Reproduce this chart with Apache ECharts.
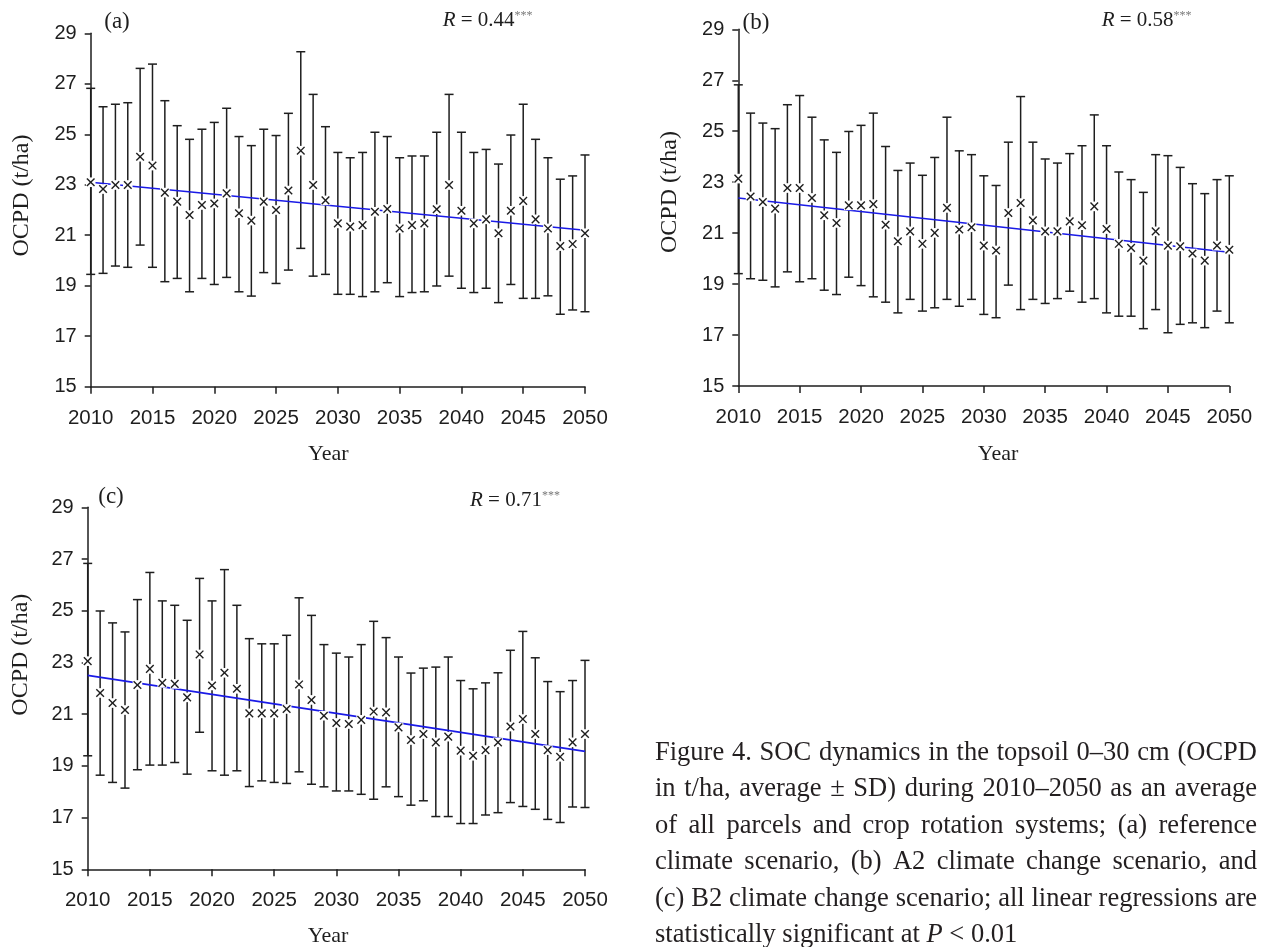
<!DOCTYPE html>
<html><head><meta charset="utf-8">
<script src="https://cdn.jsdelivr.net/npm/echarts@6/dist/echarts.min.js"></script>
<style>html,body{margin:0;padding:0;background:#fff}#c{width:1262px;height:947px}</style>
</head><body><div id="c"></div><script>
const years = [2010,2011,2012,2013,2014,2015,2016,2017,2018,2019,2020,2021,2022,2023,2024,2025,2026,2027,2028,2029,2030,2031,2032,2033,2034,2035,2036,2037,2038,2039,2040,2041,2042,2043,2044,2045,2046,2047,2048,2049,2050];
const yTicks = [15,17,19,21,23,25,27,29];

const meanA = [23.10,22.83,22.99,22.99,24.11,23.76,22.69,22.33,21.80,22.20,22.26,22.66,21.87,21.58,22.33,22.00,22.77,24.35,22.99,22.38,21.47,21.34,21.40,21.93,22.04,21.27,21.40,21.47,22.03,22.99,21.97,21.47,21.63,21.08,21.97,22.36,21.63,21.27,20.57,20.65,21.08];
const upA = [26.82,26.09,26.19,26.25,27.61,27.78,26.33,25.34,24.80,25.20,25.47,26.03,24.91,24.55,25.20,24.95,25.83,28.27,26.58,25.30,24.28,24.07,24.28,25.08,24.91,24.07,24.14,24.14,25.08,26.58,25.08,24.28,24.40,23.82,24.97,26.19,24.80,24.07,23.22,23.35,24.18];
const loA = [19.45,19.49,19.78,19.73,20.61,19.73,19.16,19.29,18.76,19.29,19.05,19.33,18.76,18.59,19.52,19.09,19.62,20.48,19.38,19.45,18.66,18.66,18.57,18.76,19.12,18.57,18.73,18.76,18.99,19.38,18.90,18.73,18.90,18.33,19.05,18.50,18.50,18.60,17.87,18.04,17.97];
const trendA = [23.10, 21.20];

const meanB = [23.14,22.44,22.22,21.96,22.77,22.77,22.38,21.70,21.40,22.09,22.09,22.14,21.33,20.68,21.07,20.58,21.01,21.99,21.14,21.23,20.51,20.32,21.79,22.18,21.50,21.07,21.07,21.46,21.31,22.05,21.16,20.58,20.42,19.92,21.07,20.51,20.48,20.20,19.92,20.51,20.35];
const upB = [26.82,25.71,25.32,25.10,26.04,26.40,25.55,24.66,24.17,24.99,25.23,25.71,24.40,23.46,23.75,23.27,23.97,25.55,24.23,24.08,23.25,22.87,24.57,26.36,24.57,23.91,23.75,24.12,24.43,25.64,24.43,23.40,23.10,22.60,24.08,24.04,23.58,22.94,22.55,23.10,23.25];
const loB = [19.41,19.21,19.15,18.89,19.48,19.09,19.21,18.76,18.59,19.27,18.94,18.50,18.29,17.87,18.40,17.94,18.07,18.40,18.13,18.40,17.81,17.68,18.96,18.00,18.40,18.24,18.43,18.72,18.29,18.43,17.87,17.74,17.74,17.25,18.00,17.09,17.42,17.48,17.29,17.94,17.48];
const trendB = [22.38, 20.25];

const meanC = [23.05,21.82,21.43,21.16,22.13,22.75,22.21,22.17,21.65,23.31,22.11,22.60,21.98,21.03,21.03,21.03,21.20,22.15,21.55,20.94,20.66,20.62,20.78,21.10,21.07,20.49,20.00,20.23,19.91,20.13,19.59,19.39,19.61,19.91,20.52,20.81,20.23,19.61,19.35,19.91,20.23];
const upC = [26.83,24.99,24.53,24.18,25.43,26.48,25.38,25.21,24.63,26.25,25.38,26.59,25.21,23.92,23.72,23.72,24.05,25.50,24.82,23.69,23.36,23.21,23.69,24.59,23.96,23.21,22.59,22.78,22.82,23.21,22.30,21.98,22.21,22.60,23.47,24.20,23.18,22.26,21.87,22.30,23.08];
const loC = [19.39,18.64,18.36,18.14,18.85,19.03,19.03,19.13,18.68,20.30,18.81,18.64,18.81,18.20,18.42,18.36,18.32,18.77,18.29,18.19,18.03,18.03,17.90,17.71,18.19,17.81,17.48,17.65,17.04,17.04,16.77,16.77,17.10,17.19,17.58,17.43,17.32,16.93,16.81,17.41,17.39];
const trendC = [22.50, 19.56];

const panelLabels = ['(a)','(b)','(c)'];
const rValues = ['0.44','0.58','0.71'];
const yTitle = 'OCPD (t/ha)';
const xTitle = 'Year';
const captionLines = [
  'Figure 4. SOC dynamics in the topsoil 0–30 cm (OCPD',
  'in t/ha, average ± SD) during 2010–2050 as an average',
  'of all parcels and crop rotation systems; (a) reference',
  'climate scenario, (b) A2 climate change scenario, and',
  '(c) B2 climate change scenario; all linear regressions are'
];
const captionLast = ['statistically significant at ', 'P', ' < 0.01'];

const SANS = '"Liberation Sans", Arial, sans-serif';
const SERIF = '"Liberation Serif", "Times New Roman", serif';
const INK = '#1e1e1e';

const panels = [
  {grid:{left:90.7, top:33.3, width:494.3, height:353.4}, mean:meanA, up:upA, lo:loA, trend:trendA,
   lab:[117,22], r:[442.7,20], yt:[22,195.5], xt:[328.3,454]},
  {grid:{left:738.3, top:29.3, width:491, height:356.7}, mean:meanB, up:upB, lo:loB, trend:trendB,
   lab:[756,23], r:[1101.7,20], yt:[670,192], xt:[998,454]},
  {grid:{left:87.7, top:507.3, width:497.3, height:362}, mean:meanC, up:upC, lo:loC, trend:trendC,
   lab:[111,497], r:[470,500], yt:[21,654.7], xt:[328,936.6]}
];

const grids = [], xAxes = [], yAxes = [], series = [], graphics = [];
const lineSt = {stroke: INK, lineWidth: 1.5, fill: null};

panels.forEach((p, i) => {
  grids.push(Object.assign({containLabel:false}, p.grid));
  xAxes.push({gridIndex:i, type:'value', min:2010, max:2050, interval:5,
    axisLine:{show:true, onZero:false, lineStyle:{color:INK, width:1.5}},
    axisTick:{show:true, length:7, lineStyle:{color:INK, width:1.5}},
    splitLine:{show:false},
    axisLabel:{color:INK, fontFamily:SANS, fontSize:20.5, margin:21, showMinLabel:true, showMaxLabel:true, formatter: v => String(v)}
  });
  yAxes.push({gridIndex:i, type:'value', min:15, max:29,
    axisLine:{show:true, onZero:false, lineStyle:{color:INK, width:1.5}},
    axisTick:{show:true, length:6, customValues:yTicks, lineStyle:{color:INK, width:1.5}},
    splitLine:{show:false},
    axisLabel:{color:INK, fontFamily:SANS, fontSize:20, margin:14, customValues:yTicks}
  });
  const data = years.map((y, k) => [y, p.lo[k], p.mean[k], p.up[k]]);
  series.push({type:'custom', xAxisIndex:i, yAxisIndex:i, z:2, silent:true, data:data,
    renderItem: (params, api) => {
      const x = api.value(0);
      const a = api.coord([x, api.value(3)]), b = api.coord([x, api.value(1)]);
      const cw = 4.5;
      return {type:'group', children:[
        {type:'line', shape:{x1:a[0], y1:a[1], x2:b[0], y2:b[1]}, style:lineSt},
        {type:'line', shape:{x1:a[0]-cw, y1:a[1], x2:a[0]+cw, y2:a[1]}, style:lineSt},
        {type:'line', shape:{x1:b[0]-cw, y1:b[1], x2:b[0]+cw, y2:b[1]}, style:lineSt}
      ]};
    }
  });
  series.push({type:'line', xAxisIndex:i, yAxisIndex:i, z:3, silent:true, symbol:'none',
    lineStyle:{color:'#1a1ae6', width:1.6},
    data:[[years[0], p.trend[0]], [years[years.length-1], p.trend[1]]]
  });
  series.push({type:'custom', xAxisIndex:i, yAxisIndex:i, z:4, silent:true, data:data,
    renderItem: (params, api) => {
      const c = api.coord([api.value(0), api.value(2)]);
      const m = 3.8;
      return {type:'group', children:[
        {type:'rect', shape:{x:c[0]-m-1, y:c[1]-m-1, width:2*m+2, height:2*m+2}, style:{fill:'#fff'}},
        {type:'line', shape:{x1:c[0]-m, y1:c[1]-m, x2:c[0]+m, y2:c[1]+m}, style:{stroke:INK, lineWidth:1.4}},
        {type:'line', shape:{x1:c[0]-m, y1:c[1]+m, x2:c[0]+m, y2:c[1]-m}, style:{stroke:INK, lineWidth:1.4}}
      ]};
    }
  });
  graphics.push({type:'text', x:p.lab[0], y:p.lab[1], silent:true,
    style:{text:panelLabels[i], fontFamily:SERIF, fontSize:23, fill:INK, align:'center', verticalAlign:'middle'}});
  graphics.push({type:'text', x:p.r[0], y:p.r[1], silent:true,
    style:{text:'{i|R}{n| = ' + rValues[i] + '}{s|***}', align:'left', verticalAlign:'middle',
      rich:{
        i:{fontFamily:SERIF, fontSize:21, fontStyle:'italic', fill:INK},
        n:{fontFamily:SERIF, fontSize:21, fill:INK},
        s:{fontFamily:SERIF, fontSize:12, fill:'#777', verticalAlign:'top'}
      }}});
  graphics.push({type:'text', x:p.yt[0], y:p.yt[1], rotation:Math.PI/2, silent:true,
    style:{text:yTitle, fontFamily:SERIF, fontSize:24, fill:INK, align:'center', verticalAlign:'middle'}});
  graphics.push({type:'text', x:p.xt[0], y:p.xt[1], silent:true,
    style:{text:xTitle, fontFamily:SERIF, fontSize:22, fill:INK, align:'center', verticalAlign:'middle'}});
});

// caption, justified: each line squeezed horizontally if needed, then word gaps stretched
const capLeft = 655, capRight = 1257, capTop = 753, capStep = 36.4, capSize = 26.5;
const CAP_INK = '#231f20';
const ctx = document.createElement('canvas').getContext('2d');
function mw(t, style) { ctx.font = (style || '') + ' ' + capSize + 'px ' + SERIF; return ctx.measureText(t).width; }
const spaceW = mw(' ');
captionLines.forEach((line, li) => {
  const words = line.split(' ');
  const wsum = words.reduce((s, w) => s + mw(w), 0);
  const natural = wsum + spaceW * (words.length - 1);
  const sx = Math.min(1, (capRight - capLeft) / natural);
  const gap = (capRight - capLeft - wsum * sx) / (words.length - 1);
  let x = capLeft;
  words.forEach(w => {
    graphics.push({type:'text', x:x, y:capTop + li * capStep, scaleX:sx, silent:true,
      style:{text:w, fontFamily:SERIF, fontSize:capSize, fill:CAP_INK, align:'left', verticalAlign:'middle'}});
    x += mw(w) * sx + gap;
  });
});
graphics.push({type:'text', x:capLeft, y:capTop + captionLines.length * capStep, silent:true,
  style:{text:'{n|' + captionLast[0] + '}{i|' + captionLast[1] + '}{n|' + captionLast[2] + '}', align:'left', verticalAlign:'middle',
    rich:{n:{fontFamily:SERIF, fontSize:capSize, fill:CAP_INK}, i:{fontFamily:SERIF, fontSize:capSize, fontStyle:'italic', fill:CAP_INK}}}});

const chart = echarts.init(document.getElementById('c'), null, {renderer:'canvas'});
chart.setOption({
  backgroundColor:'#fff',
  animation:false,
  grid:grids, xAxis:xAxes, yAxis:yAxes, series:series,
  graphic:{elements:graphics}
});
</script></body></html>
